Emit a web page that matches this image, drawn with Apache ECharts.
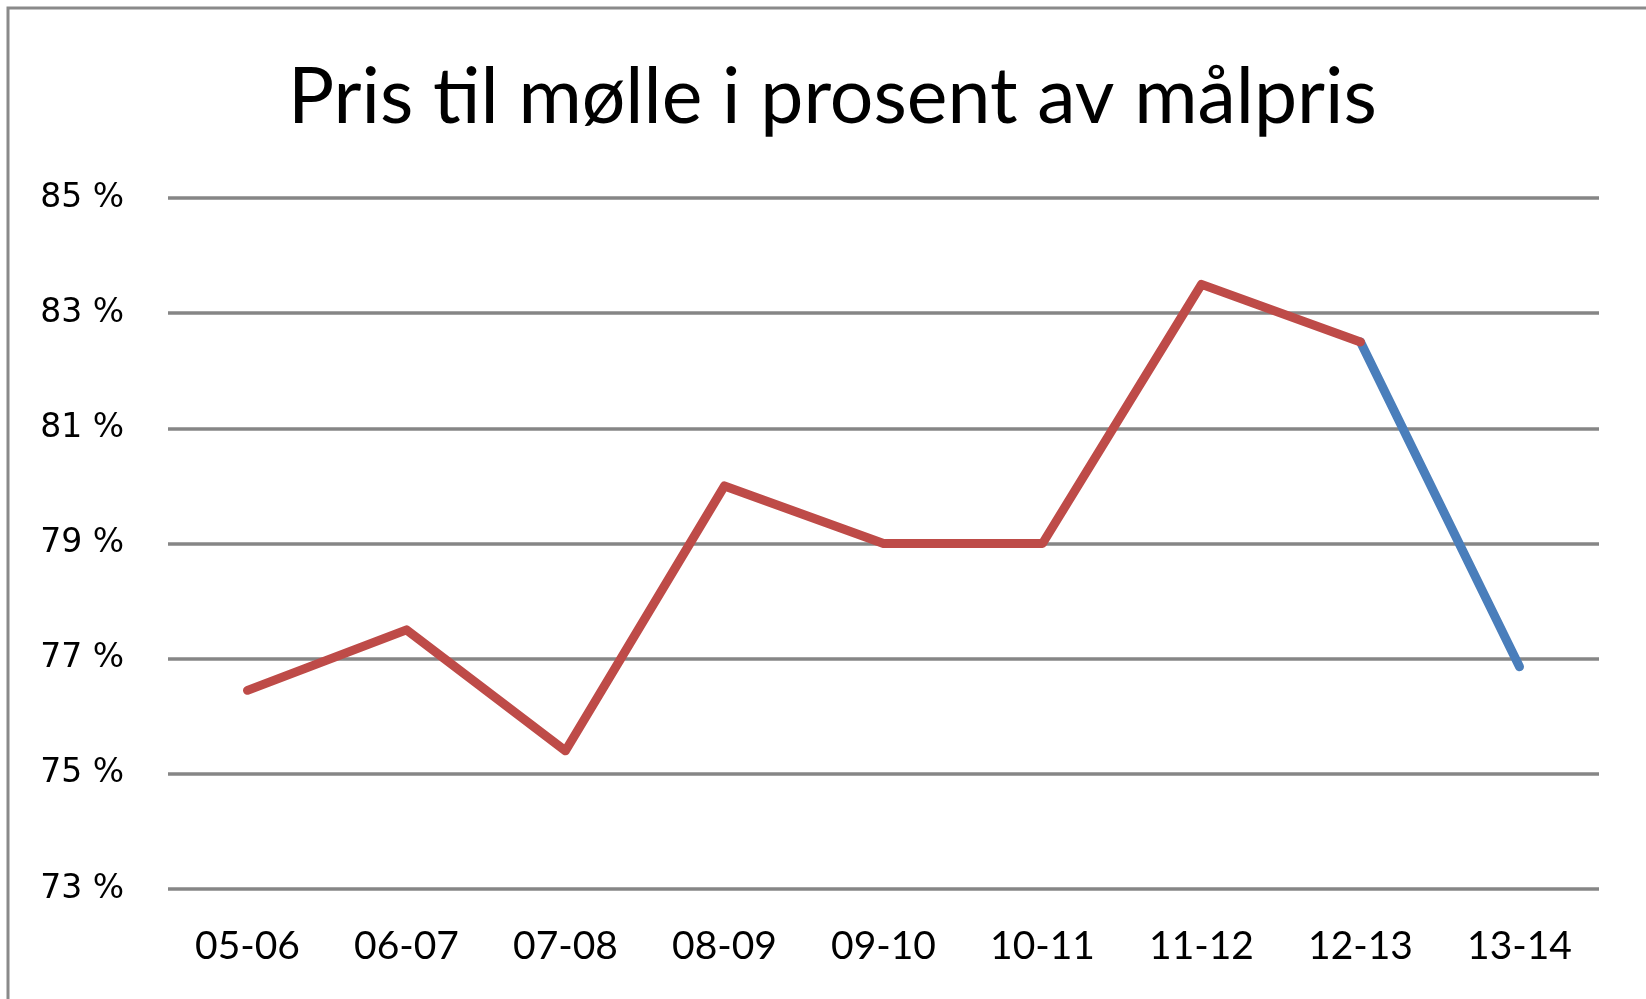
<!DOCTYPE html>
<html><head><meta charset="utf-8">
<script src="https://cdn.jsdelivr.net/npm/echarts@6/dist/echarts.min.js"></script>
<style>html,body{margin:0;padding:0;background:#fff}#c{width:1646px;height:999px}</style>
</head><body><div id="c"></div>
<script>
const categories = ['05-06','06-07','07-08','08-09','09-10','10-11','11-12','12-13','13-14'];
const historic = [76.45, 77.5, 75.4, 80.0, 79.0, 79.0, 83.5, 82.5, null];
const forecast = [null, null, null, null, null, null, null, 82.5, 76.86];
const yMin = 73, yMax = 85, yStep = 2;
const titleText = 'Pris til mølle i prosent av målpris';

const chart = echarts.init(document.getElementById('c'));
chart.setOption({
  animation: false,
  backgroundColor: '#fff',
  title: {
    text: titleText, left: 283, top: 55,
    textStyle: {fontFamily: 'Lato', fontWeight: 'normal', fontSize: 77, color: '#000'}
  },
  graphic: [{type: 'rect', shape: {x: 8, y: 8, width: 1700, height: 1100},
    style: {fill: 'none', stroke: '#8a8a8a', lineWidth: 3}, silent: true}],
  grid: {left: 168, right: 47, top: 198, bottom: 110},
  xAxis: {
    type: 'category', data: categories, boundaryGap: true,
    axisLine: {show: false}, axisTick: {show: false},
    axisLabel: {fontFamily: 'Lato', fontSize: 39, color: '#000', margin: 38}
  },
  yAxis: {
    type: 'value', min: yMin, max: yMax, interval: yStep,
    axisLine: {show: false}, axisTick: {show: false},
    axisLabel: {fontFamily: 'DejaVu Sans', fontSize: 33, color: '#000', margin: 44,
      formatter: v => v + ' %'},
    splitLine: {lineStyle: {color: '#868686', width: 3.5}}
  },
  series: [
    {type: 'line', data: forecast, symbol: 'none', connectNulls: false,
      lineStyle: {color: '#4a7ebb', width: 9, cap: 'round', join: 'round'}, z: 2},
    {type: 'line', data: historic, symbol: 'none', connectNulls: false,
      lineStyle: {color: '#be4b48', width: 9, cap: 'round', join: 'round'}, z: 3}
  ]
});
</script></body></html>
